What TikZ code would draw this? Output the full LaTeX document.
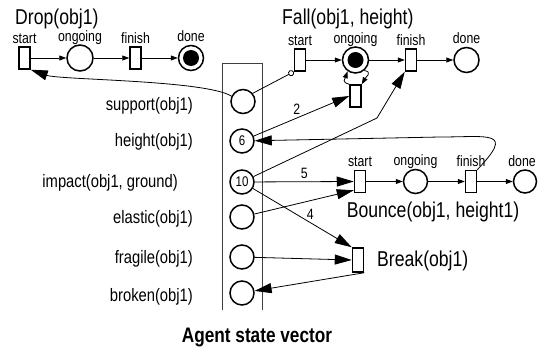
\documentclass[tikz,border=0pt]{standalone}
\usepackage{fontspec}
\setmainfont{Liberation Sans}[FakeStretch=0.82]
\usepackage{tikz}
\usetikzlibrary{arrows.meta, positioning}

\begin{document}
\begin{tikzpicture}[
  x=1pt, y=1pt,
  font=\fontsize{18}{21}\selectfont,
  node distance=55.5pt, on grid,
  place/.style={draw, circle, line width=1.5pt, minimum size=24pt, inner sep=0pt,
                font=\fontsize{14}{16}\selectfont},
  bigplace/.style={place, minimum size=26pt},
  marked/.style={bigplace, path picture={\fill (path picture bounding box.center) circle (8pt);}},
  trans/.style={draw, rectangle, line width=1.5pt, minimum width=11pt, minimum height=22pt, inner sep=0pt},
  tag/.style={font=\fontsize{15}{17}\selectfont, text height=9pt, text depth=3pt, inner sep=0pt},
  title/.style={font=\fontsize{21.5}{25}\selectfont, inner sep=0pt},
  fact/.style={anchor=base east, inner sep=0pt},
  vbox/.style={draw=black!75, line width=1pt},
  arc/.style={-{Triangle[length=7pt,width=5pt]}, line width=0.8pt},
  feed/.style={-{Triangle[length=17pt,width=10pt]}, line width=0.8pt},
  inhib/.style={-{Circle[open,length=6pt,line width=0.8pt]}, line width=0.8pt},
]
\useasboundingbox (0,0) rectangle (538,-348);

% ---- Agent state vector ----
\draw[vbox] (222.5,-310) |- (262.5,-63) -- (262.5,-310);
\node[place] (support) at (243,-101.5) {};
\node[place] (height)  at (242,-141) {6};
\node[place] (ten)     at (242,-182) {10};
\node[place] (elastic) at (242,-217) {};
\node[place] (fragile) at (242,-257) {};
\node[place] (broken)  at (242,-293) {};

\node[fact] (lsupport) at (193,-110) {support(obj1)};
\node[fact] (lheight)  at (193,-146) {height(obj1)};
\node[fact] (limpact)  at (178,-187) {impact(obj1, ground)};
\node[fact] (lelastic) at (193,-223) {elastic(obj1)};
\node[fact] (lfragile) at (193,-263) {fragile(obj1)};
\node[fact] (lbroken)  at (193,-301) {broken(obj1)};
\node[anchor=base, inner sep=0pt, font=\fontsize{21}{25}\selectfont\bfseries] (vtitle) at (257,-342) {Agent state vector};

% ---- Drop ----
\node[title, anchor=base west] (droptitle) at (15,-24) {Drop(obj1)};
\node[trans, label={[tag]above:start}] (dstart) at (24.5,-58) {};
\node[bigplace, right=of dstart, label={[tag]above:ongoing}] (dgo) {};
\node[trans, right=of dgo, label={[tag]above:finish}] (dfin) {};
\node[marked, minimum size=25pt, right=of dfin, label={[tag]above:done}] (ddone) {};

% ---- Fall ----
\node[title, anchor=base west] (falltitle) at (282,-24) {Fall(obj1, height)};
\node[trans, label={[tag]above:start}] (fstart) at (300,-60) {};
\node[marked, right=of fstart, label={[tag]above:ongoing}] (fgo) {};
\node[trans, right=of fgo, label={[tag]above:finish}] (ffin) {};
\node[bigplace, minimum size=25pt, right=of ffin, label={[tag]above:done}] (fdone) {};
\node[trans, below=36pt of fgo] (floop) {};

% ---- Bounce ----
\node[trans, label={[tag]above:start}] (bstart) at (360,-181.5) {};
\node[place, right=of bstart, label={[tag]above:ongoing}] (bgo) {};
\node[trans, right=of bgo, label={[tag]above:finish}] (bfin) {};
\node[place, right=54pt of bfin, minimum size=23pt, label={[tag, xshift=-3pt]above:done}] (bdone) {};
\node[title, anchor=base] (bouncetitle) at (433,-217) {Bounce(obj1, height1)};

% ---- Break ----
\node[trans, minimum height=24pt] (brk) at (358,-260) {};
\node[title, anchor=base west] (breaktitle) at (377,-266) {Break(obj1)};

% ---- arcs inside the nets ----
\draw[arc] (dstart) -- (dgo);
\draw[arc] (dgo) -- (dfin);
\draw[arc] (dfin) -- (ddone);
\draw[arc] (fstart) -- (fgo);
\draw[arc] (fgo) -- (ffin);
\draw[arc] (ffin) -- (fdone);
\draw[arc] (floop.north west) to[out=165, in=250, looseness=1.6] (fgo.235);
\draw[arc] (fgo.-50) to[out=-10, in=60, looseness=1.6] (floop.north east);
\draw[arc] (bstart) -- (bgo);
\draw[arc] (bgo) -- (bfin);
\draw[arc] (bfin) -- (bdone);

% ---- state vector <-> nets ----
\coordinate (fbend) at (377,-118);
\coordinate (hret) at (440,-137);
\draw[feed] (support.155) .. controls (205,-80) and (60,-80) .. (dstart.south east);
\draw[inhib] (support.40) -- (fstart.south west);
\draw[feed] (height) -- node[pos=0.45, above, tag]{2} (floop.west);
\draw[feed] (ten) -- (fbend) -- (ffin.south west);
\draw[feed] (bfin.north east) .. controls (515,-130) and (490,-137) .. (hret) -- (height);
\draw[feed] (ten) -- node[above, tag]{5} (bstart.west);
\draw[feed] (elastic) -- ([yshift=3pt]bstart.south west);
\draw[feed] (ten) -- node[pos=0.58, above, tag]{4} (brk.north west);
\draw[feed] (fragile) -- (brk.west);
\draw[feed] (brk.south east) -- (broken);
\end{tikzpicture}
\end{document}
